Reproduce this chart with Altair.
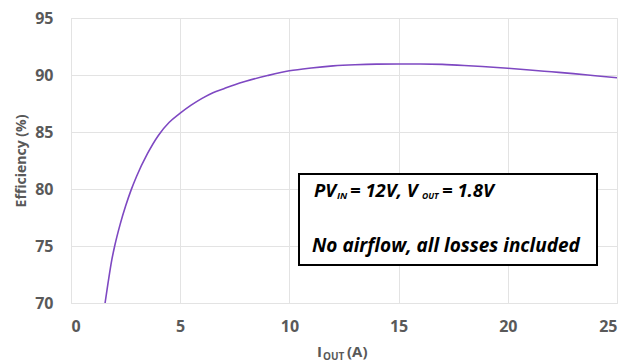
import altair as alt
import pandas as pd

current = [1.56, 1.7, 1.87, 2.0, 2.25, 2.5, 2.75, 3.0, 3.5, 4.0, 4.5, 5.0, 5.5, 6.0, 6.5, 7.0,
           7.5, 8.0, 9.0, 10, 11, 12, 13, 14, 15, 16, 17, 18, 19, 20, 21, 22, 23, 24, 25]
efficiency = [70.0, 71.8, 73.8, 75.0, 76.9, 78.5, 79.9, 81.1, 83.1, 84.7, 85.85, 86.65, 87.35,
              87.95, 88.45, 88.8, 89.15, 89.45, 89.95, 90.37, 90.62, 90.8, 90.9, 90.95, 90.96,
              90.96, 90.93, 90.84, 90.72, 90.59, 90.44, 90.28, 90.12, 89.94, 89.76]
x_ticks = [0, 5, 10, 15, 20, 25]
y_ticks = [70, 75, 80, 85, 90, 95]

FONT = "Open Sans"
GRAY = "#595959"

df = pd.DataFrame({"I": current, "Eff": efficiency})

line = alt.Chart(df).mark_line(color="#7E48C2", strokeWidth=1.6, interpolate="monotone").encode(
    x=alt.X("I:Q", scale=alt.Scale(domain=[0, 25], nice=False),
            axis=alt.Axis(values=x_ticks, title=None, labelFont=FONT, labelFontSize=16,
                          labelFontWeight="bold", labelColor=GRAY, labelPadding=15,
                          ticks=False, domain=False, grid=True, gridColor="#e3e3e3")),
    y=alt.Y("Eff:Q", scale=alt.Scale(domain=[70, 95], nice=False, zero=False),
            axis=alt.Axis(values=y_ticks, title="Efficiency (%)", titleFont=FONT,
                          titleFontSize=14, titleFontWeight="bold", titleColor=GRAY,
                          titlePadding=6, labelFont=FONT, labelFontSize=16,
                          labelFontWeight="bold", labelColor=GRAY, labelPadding=18,
                          ticks=False, domain=False, grid=True, gridColor="#e3e3e3")),
)

box = alt.Chart(df).mark_rect(fill="white", stroke="black", strokeWidth=2).encode(
    x=alt.value(228), x2=alt.value(526), y=alt.value(156), y2=alt.value(247)
)


def txt(text, x, y, size, italic=True, color="black"):
    return alt.Chart(pd.DataFrame({"t": [text]})).mark_text(
        align="left", baseline="alphabetic", font=FONT, fontSize=size,
        fontWeight="bold", fontStyle="italic" if italic else "normal", color=color
    ).encode(text="t:N", x=alt.value(x), y=alt.value(y))


ann = [
    txt("PV", 243, 179, 18.5),
    txt("IN", 266, 181, 9.5),
    txt("= 12V, V", 279, 179, 18.5),
    txt("OUT", 351, 181, 8.5),
    txt("= 1.8V", 371, 179, 18.5),
    txt("No airflow, all losses included", 241, 234, 19),
    txt("I", 246, 339, 15, italic=False, color=GRAY),
    txt("OUT", 252, 342, 10, italic=False, color=GRAY),
    txt("(A)", 276, 339, 15, italic=False, color=GRAY),
]

chart = alt.layer(line, box, *ann).properties(
    width=546, height=285,
    autosize=alt.AutoSizeParams(type="none"),
    padding={"left": 71, "top": 18, "right": 21, "bottom": 60},
    background="white",
).configure_view(stroke="#e3e3e3")

chart.save("out.html", embed_options={"renderer": "svg", "actions": False})
